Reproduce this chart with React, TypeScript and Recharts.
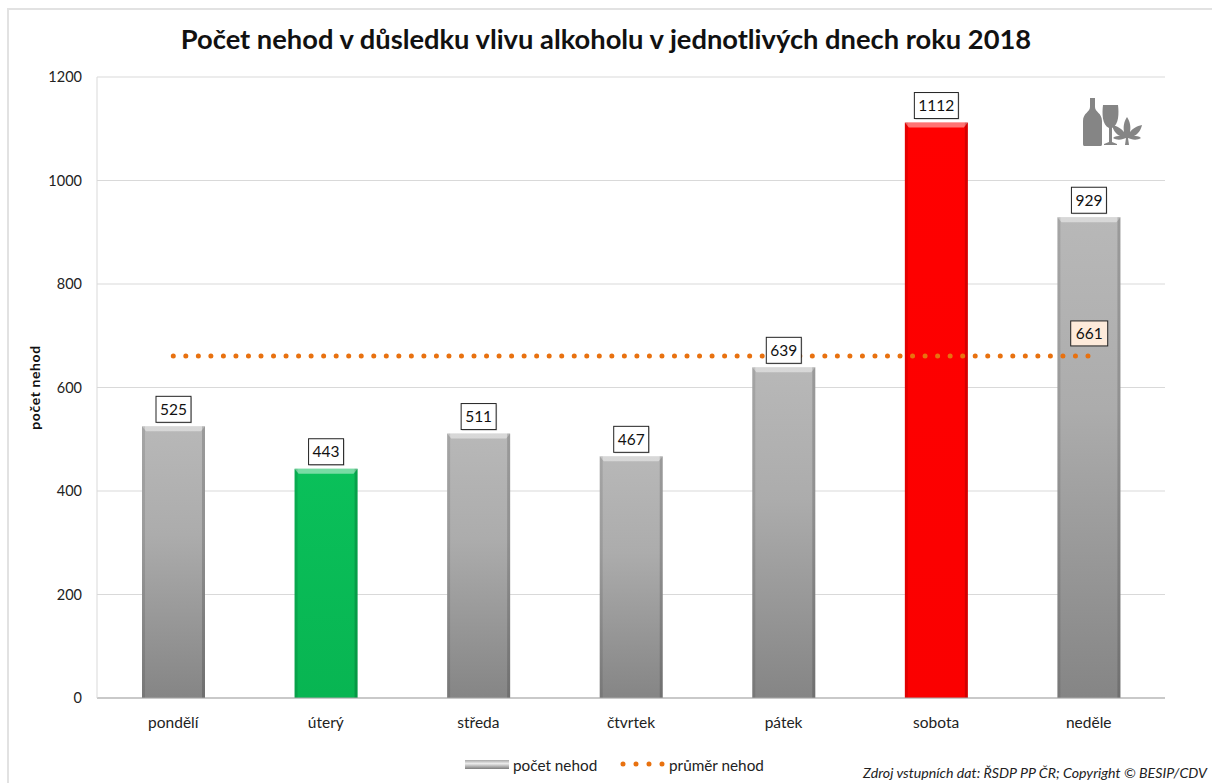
import React from 'react';
import { Bar, Line, ComposedChart, XAxis, YAxis, CartesianGrid, LabelList, Cell, Legend } from 'recharts';

const days = ['pondělí', 'úterý', 'středa', 'čtvrtek', 'pátek', 'sobota', 'neděle'];
const counts = [525, 443, 511, 467, 639, 1112, 929];
const averages = [661, 661, 661, 661, 661, 661, 661];
const fills = ['url(#gGrey)', 'url(#gGreen)', 'url(#gGrey)', 'url(#gGrey)', 'url(#gGrey)', 'url(#gRed)', 'url(#gGrey)'];
const ticks = [0, 200, 400, 600, 800, 1000, 1200];
const data = days.map((d, i) => ({ day: d, count: counts[i], avg: averages[i], fill: fills[i] }));

const FONT = 'Lato, Carlito, sans-serif';

const BarShape = (p: any) => {
  const { x, y, width, height, fill } = p;
  return (
    <g>
      <rect x={x} y={y} width={width} height={height} fill={fill} />
      <path d={`M${x} ${y} L${x + width} ${y} L${x + width - 4} ${y + 5} L${x + 4} ${y + 5} Z`} fill="#ffffff" opacity={0.45} />
      <rect x={x} y={y} width={3} height={height} fill="#000" opacity={0.1} />
      <rect x={x + width - 3} y={y} width={3} height={height} fill="#000" opacity={0.16} />
    </g>
  );
};

const BoxLabel = (p: any) => {
  const { x, y, width, value } = p;
  const w = String(value).length > 3 ? 44 : 35;
  const cx = x + width / 2;
  return (
    <g>
      <rect x={cx - w / 2 + 1} y={y - 29} width={w} height={26} fill="#000" opacity={0.18} />
      <rect x={cx - w / 2} y={y - 30} width={w} height={26} fill="#fff" stroke="#222" strokeWidth={1} />
      <text x={cx} y={y - 11.5} textAnchor="middle" fontSize={15.5} fontFamily={FONT} fill="#111">{value}</text>
    </g>
  );
};

const AvgLabel = (p: any) => {
  const { x, y, index, value } = p;
  if (index !== 6) return null;
  return (
    <g>
      <rect x={x - 18} y={y - 35} width={37} height={25} fill="#fdeada" stroke="#222" strokeWidth={1} />
      <text x={x + 0.5} y={y - 17} textAnchor="middle" fontSize={15.5} fontFamily={FONT} fill="#111">{value}</text>
    </g>
  );
};

const LegendContent = () => (
  <div style={{ position: 'relative', height: 20, fontFamily: FONT, fontSize: 15.3, color: '#222', whiteSpace: 'nowrap' }}>
    <svg width={44} height={10} style={{ position: 'absolute', left: 0, top: 6 }}>
      <rect x={0} y={0} width={44} height={9} fill="url(#gLegend)" />
    </svg>
    <span style={{ position: 'absolute', left: 48, top: 2 }}>počet nehod</span>
    <svg width={46} height={10} style={{ position: 'absolute', left: 155, top: 5 }}>
      <line x1={3} x2={44} y1={5} y2={5} stroke="#e8710f" strokeWidth={5} strokeLinecap="round" strokeDasharray="0 13" />
    </svg>
    <span style={{ position: 'absolute', left: 204, top: 2 }}>průměr nehod</span>
  </div>
);

export default function App() {
  return (
    <div style={{ position: 'absolute', left: 0, top: 0, width: 1212, height: 783, background: '#fff', overflow: 'hidden' }}>
      <div style={{ position: 'absolute', left: 7, top: 8, width: 1300, height: 900, border: '2px solid #e2e2e2', boxSizing: 'border-box' }} />
      <div style={{ position: 'absolute', left: 0, top: 22, width: 1212, textAlign: 'center', fontFamily: FONT, fontWeight: 700, fontSize: 27.3, color: '#111', whiteSpace: 'nowrap' }}>
        Počet nehod v důsledku vlivu alkoholu v jednotlivých dnech roku 2018
      </div>
      <ComposedChart width={1212} height={783} data={data} margin={{ top: 77, right: 47, bottom: 35, left: 0 }} style={{ position: 'absolute', left: 0, top: 0 }}>
        <defs>
          <linearGradient id="gGrey" x1="0" y1="0" x2="0" y2="1">
            <stop offset="0" stopColor="#b8b8b8" />
            <stop offset="0.4" stopColor="#acacac" />
            <stop offset="1" stopColor="#858585" />
          </linearGradient>
          <linearGradient id="gLegend" x1="0" y1="0" x2="0" y2="1">
            <stop offset="0" stopColor="#a8a8a8" />
            <stop offset="0.4" stopColor="#ececec" />
            <stop offset="1" stopColor="#7d7d7d" />
          </linearGradient>
          <linearGradient id="gGreen" x1="0" y1="0" x2="0" y2="1">
            <stop offset="0" stopColor="#0ac05a" />
            <stop offset="1" stopColor="#08b552" />
          </linearGradient>
          <linearGradient id="gRed" x1="0" y1="0" x2="0" y2="1">
            <stop offset="0" stopColor="#ff0000" />
            <stop offset="1" stopColor="#fb0000" />
          </linearGradient>
        </defs>
        <CartesianGrid vertical={false} stroke="#d9d9d9" strokeWidth={1} />
        <XAxis dataKey="day" height={30} tickLine={false} axisLine={{ stroke: '#a6a6a6' }} tick={{ fontFamily: FONT, fontSize: 15.5, fill: '#222' }} tickMargin={13} />
        <YAxis domain={[0, 1200]} ticks={ticks} width={97} axisLine={{ stroke: '#d9d9d9' }} tickLine={false} tick={{ fontFamily: FONT, fontSize: 14.5, fill: '#222' }} tickMargin={9}
          label={{ value: 'počet nehod', angle: -90, position: 'insideLeft', offset: 35, style: { fontFamily: FONT, fontSize: 14, letterSpacing: 0.6, fontWeight: 700, fill: '#111', textAnchor: 'middle' } }} />
        <Bar dataKey="count" barSize={63} shape={<BarShape />} isAnimationActive={false} legendType="rect">
          {data.map((d, i) => <Cell key={i} fill={d.fill} />)}
          <LabelList dataKey="count" content={<BoxLabel />} />
        </Bar>
        <Line dataKey="avg" stroke="#e8710f" strokeWidth={5} strokeLinecap="round" strokeDasharray="0 12.53" dot={false} isAnimationActive={false}>
          <LabelList dataKey="avg" content={<AvgLabel />} />
        </Line>
        <Legend content={<LegendContent />} wrapperStyle={{ left: 465, top: 754, width: 320 }} />
      </ComposedChart>
      <svg width={70} height={60} style={{ position: 'absolute', left: 1080, top: 94 }}>
        <path d="M7 4 h5 v9 c0 5 7 6 7 14 v23 c0 2 -1 2 -2 2 h-15 c-1 0 -2 0 -2 -2 v-23 c0 -8 7 -9 7 -14 z" transform="translate(3 0)" fill="#858585" />
        <path d="M23 11 h15 c1 8 1 20 -6 23 v14 l5 2 v1 h-13 v-1 l5 -2 v-14 c-7 -3 -7 -15 -6 -23 z" fill="#858585" />
        <path d="M47 23 c3 5 4 9 3 15 c2 -3 7 -6 12 -7 c-1 5 -4 9 -8 11 c2 0 5 0 7 2 c-3 2 -7 2 -10 1 l-3 -1 l1 7 l-4 0 l1 -7 l-3 1 c-3 1 -7 1 -10 -1 c2 -2 5 -2 7 -2 c-4 -2 -7 -6 -8 -11 c5 1 10 4 12 7 c-1 -6 0 -10 3 -15 z" fill="#858585" />
      </svg>
      <div style={{ position: 'absolute', right: 5, top: 764, fontFamily: FONT, fontStyle: 'italic', fontSize: 14.2, color: '#222', whiteSpace: 'nowrap' }}>
        Zdroj vstupních dat: ŘSDP PP ČR; Copyright © BESIP/CDV
      </div>
    </div>
  );
}
